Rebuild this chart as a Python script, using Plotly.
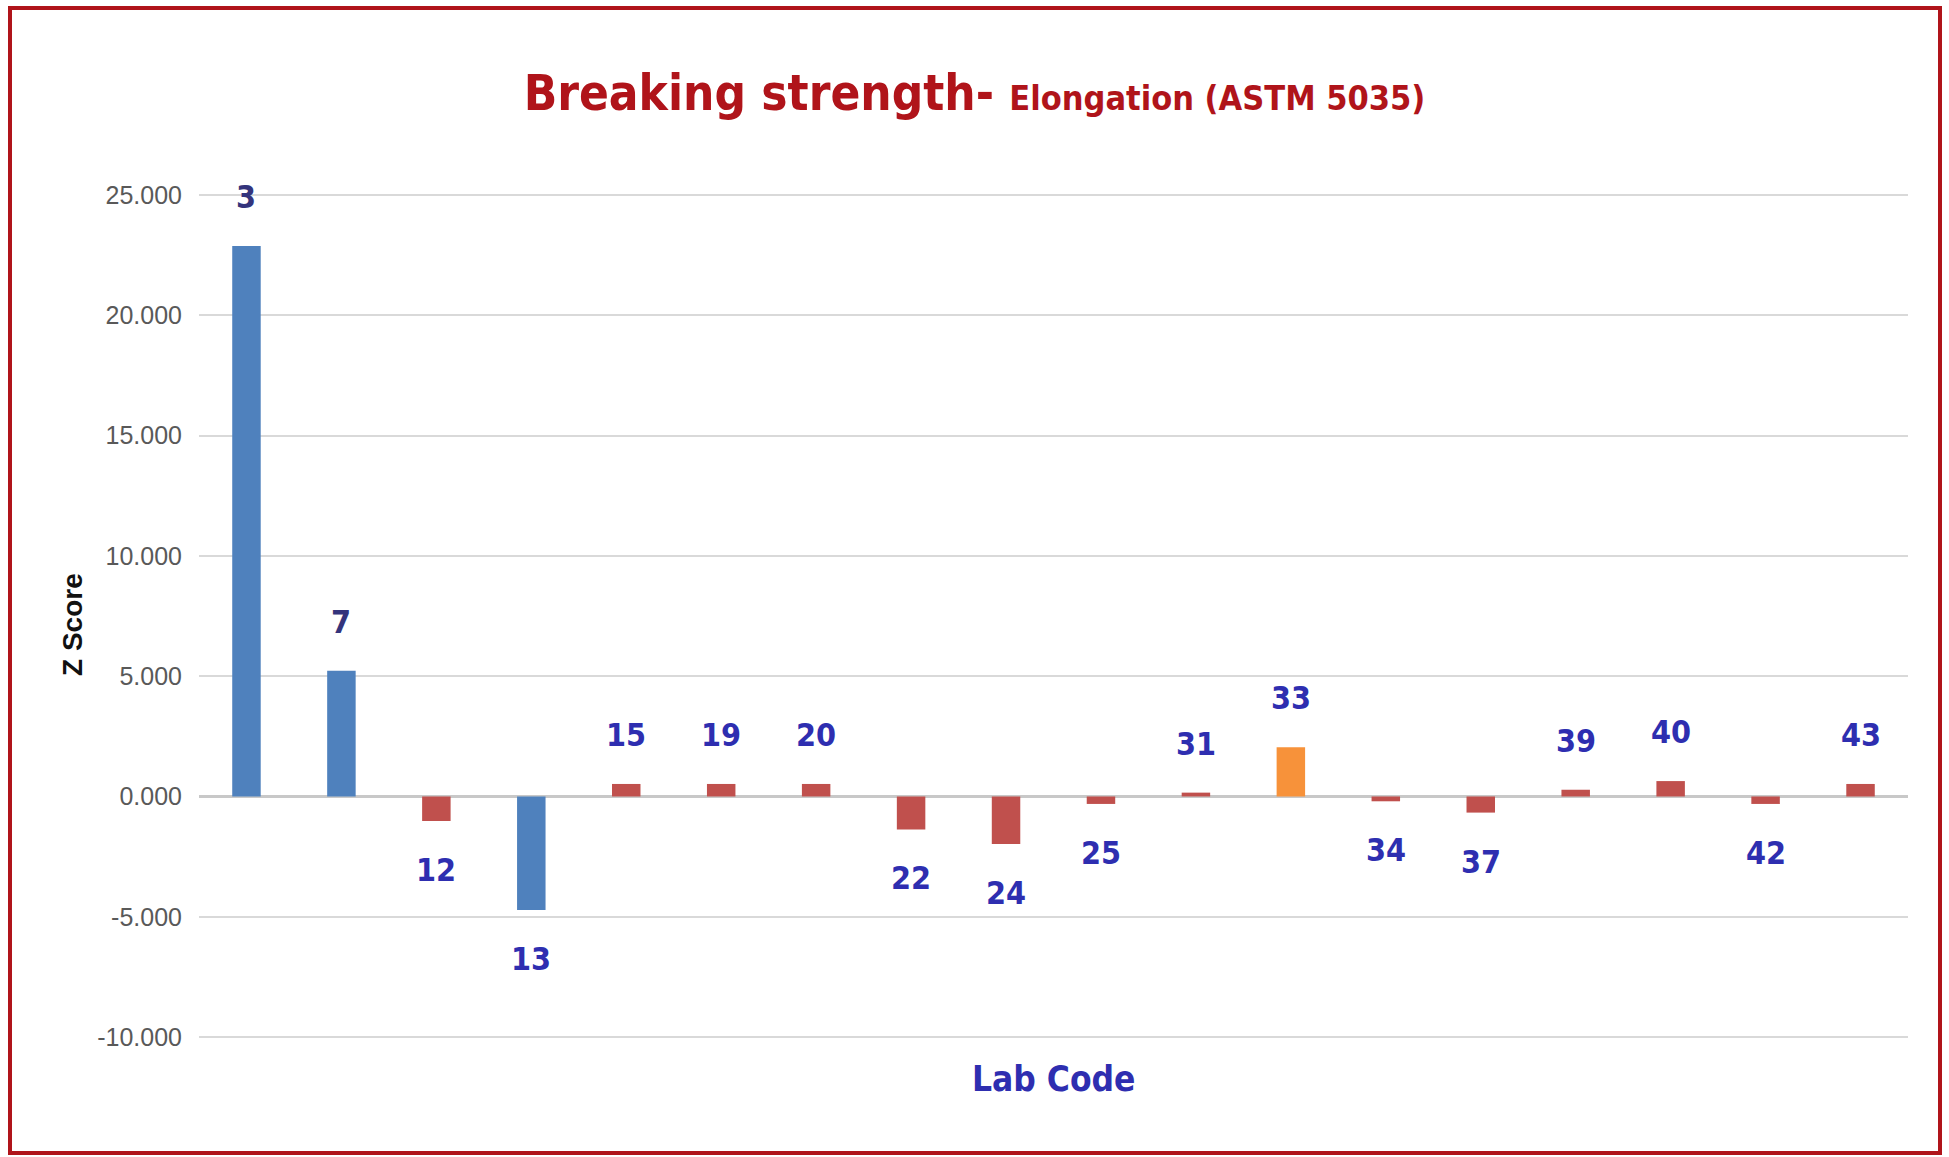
import plotly.graph_objects as go

# ---- data ----
lab_codes = ["3", "7", "12", "13", "15", "19", "20", "22", "24", "25",
             "31", "33", "34", "37", "39", "40", "42", "43"]
z_scores = [22.88, 5.22, -1.02, -4.72, 0.52, 0.52, 0.52, -1.37, -1.98, -0.31,
            0.16, 2.05, -0.20, -0.67, 0.28, 0.64, -0.31, 0.52]
y_ticks = [-10, -5, 0, 5, 10, 15, 20, 25]
y_tick_text = [f"{v:.3f}" for v in y_ticks]

# ---- style ----
W, H = 1949, 1157
ML, MR, MT, MB = 199, 41, 192, 117
BLUE, RED, ORANGE = "#4F81BD", "#C0504D", "#F7923A"
NARROW = "DejaVu Sans Condensed, Liberation Sans Narrow, Arial Narrow, sans-serif"


def bar_colour(z):
    a = abs(z)
    if a >= 3:
        return BLUE
    if a >= 2:
        return ORANGE
    return RED


colours = [bar_colour(z) for z in z_scores]

fig = go.Figure()
fig.add_trace(go.Bar(
    x=lab_codes, y=z_scores,
    marker=dict(color=colours, line=dict(width=0)),
    hoverinfo="x+y",
))

annotations = []
for i, (code, z) in enumerate(zip(lab_codes, z_scores)):
    col = "#34347C" if abs(z) >= 5 else "#2E2EB0"
    annotations.append(dict(
        x=i, y=z, xref="x", yref="y",
        text=f"<b>{code}</b>", showarrow=False,
        yshift=49 if z >= 0 else -49,
        font=dict(family=NARROW, size=32, color=col),
    ))

pw = W - ML - MR
ph = H - MT - MB

# y axis title
annotations.append(dict(
    x=(72 - ML) / pw, y=(H - MB - 625) / ph, xref="paper", yref="paper",
    text="<b>Z Score</b>", textangle=-90, showarrow=False,
    xanchor="center", yanchor="middle",
    font=dict(family="Liberation Sans, Arial, sans-serif", size=28, color="#111111"),
))
# x axis title
annotations.append(dict(
    x=0.5, y=(H - MB - 1079) / ph, xref="paper", yref="paper",
    text="<b>Lab Code</b>", showarrow=False,
    xanchor="center", yanchor="middle",
    font=dict(family=NARROW, size=35, color="#2E2EB0"),
))

# figure border (dark red frame)
fx0, fx1, fy0, fy1 = 10, 1940, 8, 1153
shapes = [dict(
    type="rect", xref="paper", yref="paper",
    x0=(fx0 - ML) / pw, x1=(fx1 - ML) / pw,
    y0=(H - MB - fy1) / ph, y1=(H - MB - fy0) / ph,
    line=dict(color="#B0141A", width=4), fillcolor="rgba(0,0,0,0)",
    layer="below",
)]

fig.update_layout(
    width=W, height=H,
    margin=dict(l=ML, r=MR, t=MT, b=MB, autoexpand=False),
    paper_bgcolor="white", plot_bgcolor="white",
    showlegend=False,
    bargap=0.70,
    title=dict(
        text="<b><span style='font-size:49px'>Breaking strength- </span>"
             "<span style='font-size:34px'>Elongation (ASTM 5035)</span></b>",
        x=0.5, xanchor="center", xref="container",
        y=1 - 93 / H, yanchor="middle", yref="container",
        font=dict(family=NARROW, color="#B0141A", size=49),
    ),
    xaxis=dict(
        type="category", range=[-0.5, len(lab_codes) - 0.5],
        showticklabels=False, showgrid=False,
        zeroline=False, showline=False, ticks="",
    ),
    yaxis=dict(
        range=[-10.12, 25.12], tickvals=y_ticks, ticktext=y_tick_text,
        showgrid=True, gridcolor="#D9D9D9", gridwidth=2,
        zeroline=True, zerolinecolor="#C8C8C8", zerolinewidth=3,
        showline=False, ticks="",
        tickfont=dict(family="Liberation Sans, Arial, sans-serif", size=25, color="#595959"),
        ticklabelstandoff=16,
    ),
    annotations=annotations,
    shapes=shapes,
)

fig.write_html("out.html", config={"displayModeBar": False},
               post_script="document.body.style.margin='0';")
